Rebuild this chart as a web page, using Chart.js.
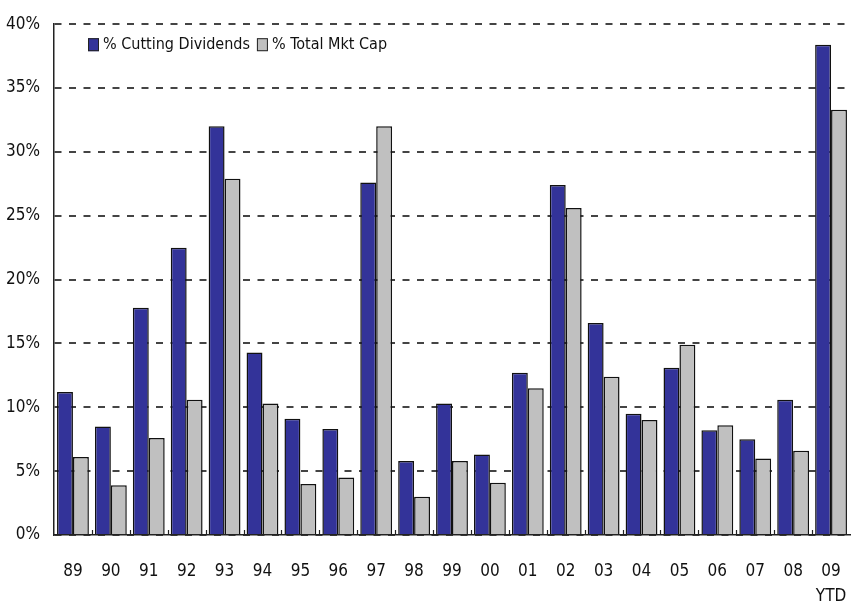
<!DOCTYPE html>
<html>
<head>
<meta charset="utf-8">
<script src="https://cdn.jsdelivr.net/npm/chart.js@4/dist/chart.umd.min.js"></script>
<style>
  html, body { margin: 0; padding: 0; background: #fff; }
  #wrap { width: 851px; height: 604px; }
</style>
</head>
<body>
<div id="wrap"><canvas id="c" width="851" height="604"></canvas></div>
<script>
const years = ['89', '90', '91', '92', '93', '94', '95', '96', '97', '98', '99',
  '00', '01', '02', '03', '04', '05', '06', '07', '08', ['09', 'YTD']];
const cuttingDividends = [11.2, 8.5, 17.8, 22.5, 32.0, 14.3, 9.1, 8.3, 27.6, 5.8, 10.3,
  6.3, 12.7, 27.4, 16.6, 9.5, 13.1, 8.2, 7.5, 10.6, 38.4];
const totalMktCap = [6.1, 3.9, 7.6, 10.6, 27.9, 10.3, 4.0, 4.5, 32.0, 3.0, 5.8,
  4.1, 11.5, 25.6, 12.4, 9.0, 14.9, 8.6, 6.0, 6.6, 33.3];

const FONT = `'Liberation Sans Narrow', 'DejaVu Sans Condensed', 'Roboto', sans-serif`;

// little tick marks on the x axis between the categories, pointing up
const innerTicks = {
  id: 'innerTicks',
  afterDatasetsDraw(chart) {
    const { ctx, chartArea, scales: { x } } = chart;
    ctx.save();
    ctx.strokeStyle = '#222';
    ctx.lineWidth = 1.2;
    for (let i = 1; i < years.length; i++) {
      const px = Math.round((x.getPixelForValue(i - 1) + x.getPixelForValue(i)) / 2) + 0.5;
      ctx.beginPath();
      ctx.moveTo(px, chartArea.bottom);
      ctx.lineTo(px, chartArea.bottom - 5);
      ctx.stroke();
    }
    ctx.restore();
  }
};

// legend drawn inside the plot, top left
const insideLegend = {
  id: 'insideLegend',
  afterDraw(chart) {
    const { ctx, chartArea } = chart;
    let lx = chartArea.left + 34;
    const ly = chartArea.top + 20;
    ctx.save();
    ctx.font = `16px ${FONT}`;
    ctx.textBaseline = 'middle';
    chart.data.datasets.forEach((ds) => {
      ctx.fillStyle = ds.backgroundColor;
      ctx.fillRect(lx, ly - 6, 11, 13);
      ctx.strokeStyle = '#222';
      ctx.lineWidth = 1;
      ctx.strokeRect(lx + 0.5, ly - 5.5, 10, 12);
      ctx.fillStyle = '#111';
      ctx.fillText(ds.label, lx + 15, ly + 1);
      lx += 15 + ctx.measureText(ds.label).width + 7;
    });
    ctx.restore();
  }
};

new Chart(document.getElementById('c'), {
  type: 'bar',
  plugins: [innerTicks, insideLegend],
  data: {
    labels: years,
    datasets: [{
      label: '% Cutting Dividends',
      data: cuttingDividends,
      backgroundColor: '#333399',
      borderColor: '#111',
      borderWidth: 1.5,
      categoryPercentage: 0.84,
      barPercentage: 1,
    }, {
      label: '% Total Mkt Cap',
      data: totalMktCap,
      backgroundColor: '#c0c0c0',
      borderColor: '#111',
      borderWidth: 1.5,
      categoryPercentage: 0.84,
      barPercentage: 1,
    }]
  },
  options: {
    responsive: false,
    animation: false,
    layout: { padding: { top: 17, right: 1, left: 0, bottom: 0 } },
    plugins: {
      legend: { display: false },
      tooltip: { enabled: false },
    },
    scales: {
      x: {
        grid: { display: false, drawTicks: false },
        border: { display: true, color: '#222', width: 1.5 },
        ticks: {
          color: '#111',
          font: { family: FONT, size: 17, lineHeight: 1.47 },
          padding: 24,
          maxRotation: 0,
          autoSkip: false,
        },
        afterFit: (s) => {
          s.height = 69;
          s.paddingLeft = 0;
          s.paddingRight = 0;
        },
      },
      y: {
        min: 0,
        max: 40,
        ticks: {
          stepSize: 5,
          color: '#111',
          font: { family: FONT, size: 17 },
          padding: 14,
          callback: (v) => v + '%',
        },
        grid: {
          color: '#444',
          lineWidth: 2,
          drawTicks: false,
        },
        border: { display: true, color: '#222', width: 1.5, dash: [7, 7.5] },
        afterFit: (s) => { s.width = 54; },
      },
    },
  },
});
</script>
</body>
</html>
